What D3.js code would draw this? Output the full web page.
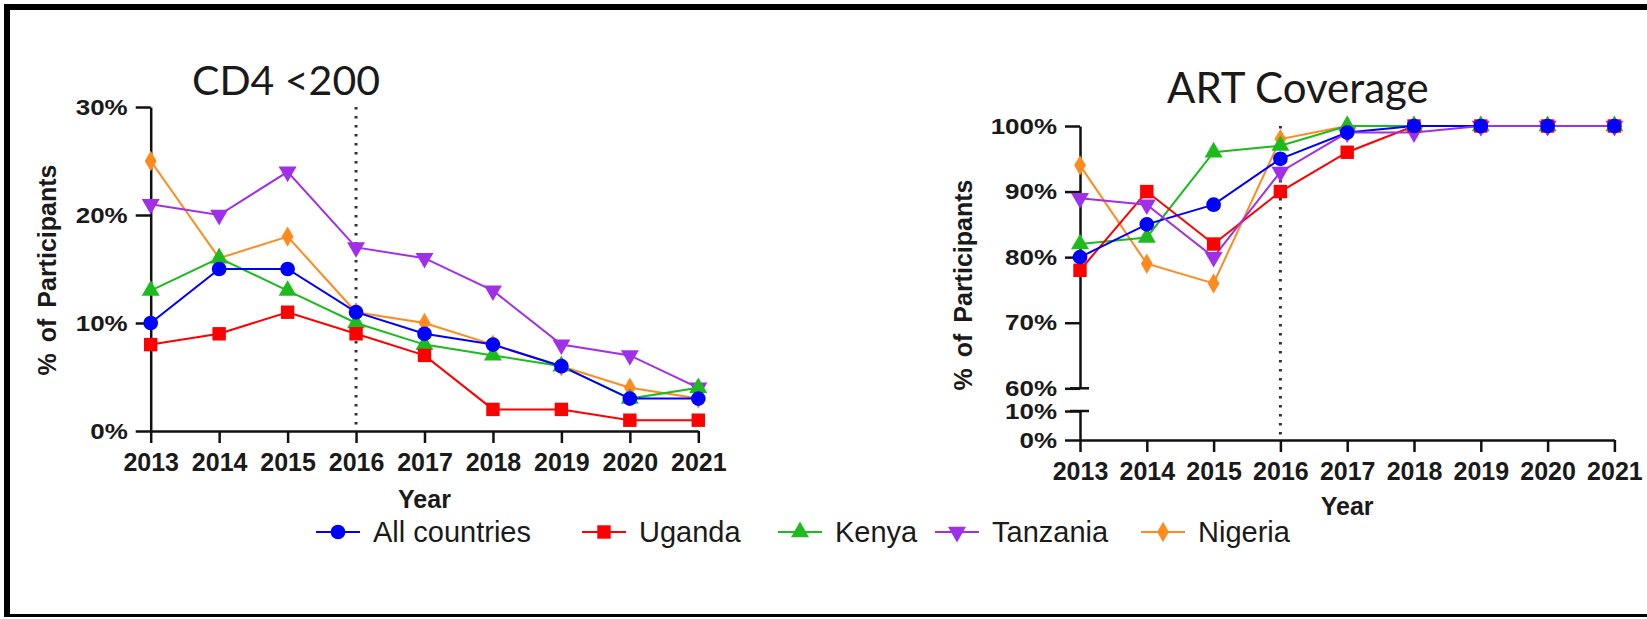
<!DOCTYPE html>
<html>
<head>
<meta charset="utf-8">
<script src="https://cdn.jsdelivr.net/npm/d3@7"></script>
<style>
  body { margin: 0; background: #ffffff; }
  svg { display: block; }
  text { fill: #1a1a1a; }
</style>
</head>
<body>
<div id="chart"></div>
<script>
const years = [2013, 2014, 2015, 2016, 2017, 2018, 2019, 2020, 2021];
const seriesNames = ["All countries", "Uganda", "Kenya", "Tanzania", "Nigeria"];
const seriesColors = ["#0000ff", "#ff0000", "#1dbb1d", "#a030e8", "#ff8a1e"];

// CD4 <200, % of participants
const cd4All = [10, 15, 15, 11, 9, 8, 6, 3, 3];
const cd4Uganda = [8, 9, 11, 9, 7, 2, 2, 1, 1];
const cd4Kenya = [13, 16, 13, 10, 8, 7, 6, 3, 4];
const cd4Tanzania = [21, 20, 24, 17, 16, 13, 8, 7, 4];
const cd4Nigeria = [25, 16, 18, 11, 10, 8, 6, 4, 3];

// ART coverage, % of participants
const artAll = [80, 85, 88, 95, 99, 100, 100, 100, 100];
const artUganda = [78, 90, 82, 90, 96, 100, 100, 100, 100];
const artKenya = [82, 83, 96, 97, 100, 100, 100, 100, 100];
const artTanzania = [89, 88, 80, 93, 99, 99, 100, 100, 100];
const artNigeria = [94, 79, 76, 98, 100, 100, 100, 100, 100];

const cd4Ticks = [0, 10, 20, 30];
const artTicksTop = [60, 70, 80, 90, 100];
const artTicksBottom = [0, 10];
const markerYear = 2016;

const cd4Series = [cd4All, cd4Uganda, cd4Kenya, cd4Tanzania, cd4Nigeria];
const artSeries = [artAll, artUganda, artKenya, artTanzania, artNigeria];

const symbols = [
  d3.symbol().type(d3.symbolCircle).size(170),
  d3.symbol().type(d3.symbolSquare).size(180),
  d3.symbol().type(d3.symbolTriangle).size(140),
  d3.symbol().type(d3.symbolTriangle).size(140),
  d3.symbol().type(d3.symbolDiamond).size(120),
];
const symbolRotate = [0, 0, 0, 180, 0];

// lines drawn in this order, markers in this order (blue ends on top)
const lineOrder = [4, 2, 1, 0, 3];
const markerOrder = [4, 3, 2, 1, 0];

const width = 1647;
const height = 619;
const axisFont = "'Liberation Sans', Arial, sans-serif";
const titleFont = "Lato, 'Open Sans', sans-serif";

const svg = d3.select("#chart")
  .append("svg")
  .attr("width", width)
  .attr("height", height);

// frame
svg.append("line").attr("x1", 4).attr("x2", width).attr("y1", 7).attr("y2", 7)
  .attr("stroke", "#000").attr("stroke-width", 6);
svg.append("line").attr("x1", 7).attr("x2", 7).attr("y1", 4).attr("y2", 617)
  .attr("stroke", "#000").attr("stroke-width", 6);
svg.append("line").attr("x1", 4).attr("x2", width).attr("y1", 615.5).attr("y2", 615.5)
  .attr("stroke", "#000").attr("stroke-width", 3);

const styleAxis = (g) => {
  g.select(".domain").attr("stroke", "#111").attr("stroke-width", 2.5);
  g.selectAll(".tick line").attr("stroke", "#111").attr("stroke-width", 2.5);
  g.selectAll(".tick text")
    .attr("fill", "#1a1a1a")
    .style("font-family", axisFont)
    .style("font-weight", "bold");
};

const drawYLabels = (g) => {
  // y tick labels are slightly stretched horizontally in the original
  g.selectAll(".tick text")
    .style("font-size", "22px")
    .attr("x", -23 / 1.18)
    .attr("transform", "scale(1.18,1)");
};

const drawSeries = (g, x, y, data) => {
  const line = d3.line().x((d, i) => x(years[i])).y((d) => y(d));

  lineOrder.forEach((s) => {
    g.append("path")
      .datum(data[s])
      .attr("fill", "none")
      .attr("stroke", seriesColors[s])
      .attr("stroke-width", 2)
      .attr("d", line);
  });

  markerOrder.forEach((s) => {
    g.selectAll(`.m${s}`)
      .data(data[s])
      .enter()
      .append("path")
      .attr("class", `m${s}`)
      .attr("d", symbols[s])
      .attr("fill", seriesColors[s])
      .attr("transform", (d, i) =>
        `translate(${x(years[i])},${y(d)}) rotate(${symbolRotate[s]})`);
  });
};

// ---- left chart: CD4 <200 ----
const xL = d3.scaleLinear().domain([2013, 2021]).range([150.7, 698.3]);
const yL = d3.scaleLinear().domain([0, 30]).range([431, 107]);

const left = svg.append("g");

left.append("line")
  .attr("x1", xL(markerYear)).attr("x2", xL(markerYear))
  .attr("y1", yL(30)).attr("y2", yL(0))
  .attr("stroke", "#333").attr("stroke-width", 3)
  .attr("stroke-dasharray", "2.5,6.5");

left.append("g")
  .attr("transform", `translate(0,${yL(0)})`)
  .call(d3.axisBottom(xL).tickValues(years).tickFormat(d3.format("d"))
    .tickSize(12).tickPadding(10).tickSizeOuter(0))
  .call(styleAxis)
  .call((g) => g.selectAll(".tick text").style("font-size", "25px"));

left.append("g")
  .attr("transform", `translate(${xL(2013)},0)`)
  .call(d3.axisLeft(yL).tickValues(cd4Ticks).tickFormat((d) => d + "%")
    .tickSize(15).tickSizeOuter(0))
  .call(styleAxis)
  .call(drawYLabels);

drawSeries(left, xL, yL, cd4Series);

left.append("text")
  .attr("x", 192).attr("y", 95)
  .style("font-family", titleFont).style("font-size", "41px")
  .text("CD4 <200");

left.append("text")
  .attr("transform", "translate(56,270) rotate(-90)")
  .attr("text-anchor", "middle")
  .style("font-family", axisFont).style("font-weight", "bold")
  .style("font-size", "25px").style("word-spacing", "4px")
  .text("% of Participants");

left.append("text")
  .attr("x", (xL(2013) + xL(2021)) / 2).attr("y", 508)
  .attr("text-anchor", "middle")
  .style("font-family", axisFont).style("font-weight", "bold")
  .style("font-size", "25px")
  .text("Year");

// ---- right chart: ART coverage (broken y axis) ----
const xR = d3.scaleLinear().domain([2013, 2021]).range([1080, 1614.4]);
const yR = d3.scaleLinear().domain([60, 100]).range([388.3, 126]);
const yRLow = d3.scaleLinear().domain([0, 10]).range([440, 411]);

const right = svg.append("g");

right.append("line")
  .attr("x1", xR(markerYear)).attr("x2", xR(markerYear))
  .attr("y1", yR(100)).attr("y2", yRLow(0))
  .attr("stroke", "#333").attr("stroke-width", 3)
  .attr("stroke-dasharray", "2.5,6.5");

right.append("g")
  .attr("transform", `translate(0,${yRLow(0)})`)
  .call(d3.axisBottom(xR).tickValues(years).tickFormat(d3.format("d"))
    .tickSize(12).tickPadding(10).tickSizeOuter(0))
  .call(styleAxis)
  .call((g) => g.selectAll(".tick text").style("font-size", "25px"));

right.append("g")
  .attr("transform", `translate(${xR(2013)},0)`)
  .call(d3.axisLeft(yR).tickValues(artTicksTop).tickFormat((d) => d + "%")
    .tickSize(15).tickSizeOuter(0))
  .call(styleAxis)
  .call(drawYLabels);

right.append("g")
  .attr("transform", `translate(${xR(2013)},0)`)
  .call(d3.axisLeft(yRLow).tickValues(artTicksBottom).tickFormat((d) => d + "%")
    .tickSize(15).tickSizeOuter(0))
  .call(styleAxis)
  .call(drawYLabels);

// break marks at the ends of the two axis segments
[yR(60), yRLow(10)].forEach((yy) => {
  right.append("line")
    .attr("x1", xR(2013) - 10).attr("x2", xR(2013) + 9)
    .attr("y1", yy).attr("y2", yy)
    .attr("stroke", "#111").attr("stroke-width", 2.5);
});

drawSeries(right, xR, yR, artSeries);

right.append("text")
  .attr("x", 1167).attr("y", 103)
  .style("font-family", titleFont).style("font-size", "42px")
  .text("ART Coverage");

right.append("text")
  .attr("transform", "translate(972,285) rotate(-90)")
  .attr("text-anchor", "middle")
  .style("font-family", axisFont).style("font-weight", "bold")
  .style("font-size", "25px").style("word-spacing", "4px")
  .text("% of Participants");

right.append("text")
  .attr("x", (xR(2013) + xR(2021)) / 2).attr("y", 515)
  .attr("text-anchor", "middle")
  .style("font-family", axisFont).style("font-weight", "bold")
  .style("font-size", "25px")
  .text("Year");

// ---- legend ----
const legendCenters = [338, 604, 800, 957, 1163];
const legendY = 532;

const legend = svg.append("g");
seriesNames.forEach((name, s) => {
  const cx = legendCenters[s];
  const item = legend.append("g").attr("transform", `translate(${cx},${legendY})`);
  item.append("line")
    .attr("x1", -22).attr("x2", 22)
    .attr("stroke", seriesColors[s]).attr("stroke-width", 2);
  item.append("path")
    .attr("d", symbols[s])
    .attr("fill", seriesColors[s])
    .attr("transform", `rotate(${symbolRotate[s]})`);
  item.append("text")
    .attr("x", 35).attr("y", 10)
    .style("font-family", axisFont).style("font-size", "29px")
    .text(name);
});
</script>
</body>
</html>
